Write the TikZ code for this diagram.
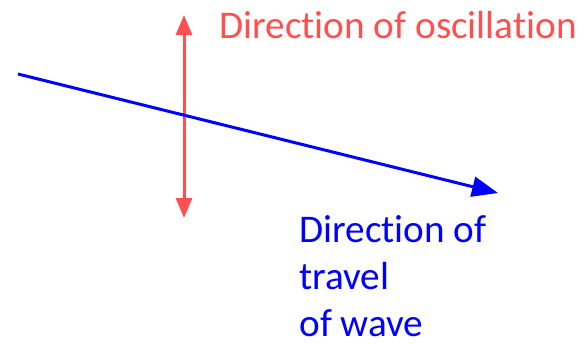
\documentclass[tikz,border=0pt]{standalone}
\usepackage{fontspec}
\setmainfont{Carlito}[Ligatures={NoCommon}]
\usetikzlibrary{arrows.meta}
\definecolor{oscred}{RGB}{255,80,80}
\definecolor{travelblue}{RGB}{0,0,255}

\begin{document}
\begin{tikzpicture}[
    x=0.5pt, y=-0.5pt,
    label/.style={inner sep=0pt, font=\fontsize{19.6}{23.5}\selectfont, align=left, anchor=base west},
    osc/.style={{Triangle[length=10pt,width=8pt]}-{Triangle[length=10pt,width=8pt]}, oscred, line width=1.5pt},
    travel/.style={-{Triangle[length=13pt,width=10pt]}, travelblue, line width=1.5pt}
]
\useasboundingbox (0,0) rectangle (584,343);

% Oscillation
\coordinate (osctop) at (184,15);
\coordinate (oscbot) at (184,218);
\draw[osc] (osctop) -- (oscbot);
\node[label, text=oscred] (osclabel) at (219,38) {Direction of oscillation};

% Wave travel
\coordinate (wavestart) at (18,74);
\coordinate (waveend) at (498,193);
\draw[travel] (wavestart) -- (waveend);
\node[label, text=travelblue] (travellabel) at (299,336) {Direction of\\travel\\of wave};

\end{tikzpicture}
\end{document}
